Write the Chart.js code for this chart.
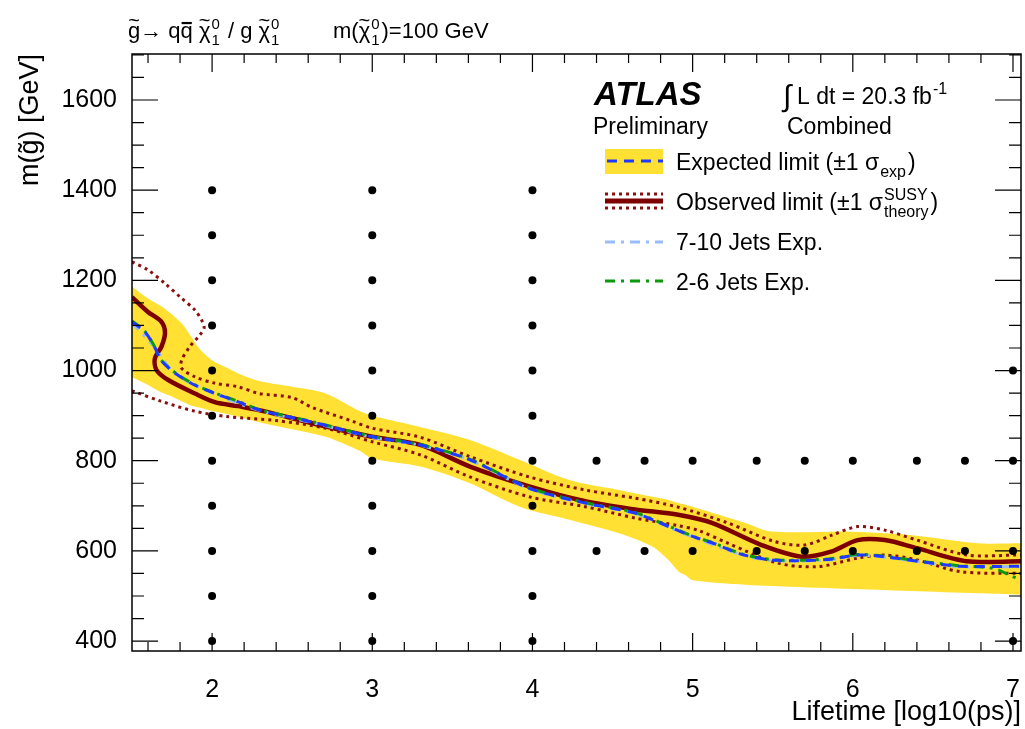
<!DOCTYPE html>
<html>
<head>
<meta charset="utf-8">
<script src="https://cdn.jsdelivr.net/npm/chart.js@4.4.0/dist/chart.umd.min.js"></script>
<style>
  body { margin: 0; background: #fff; }
  canvas { display: block; }
</style>
</head>
<body>
<canvas id="chart" width="1025" height="729"></canvas>
<script>
const FONT = '"Liberation Sans", Arial, Helvetica, sans-serif';

// tick labels
const xTickValues = [2, 3, 4, 5, 6, 7];
const yTickValues = [400, 600, 800, 1000, 1200, 1400, 1600];

// signal grid points
const gridX = [2,2,2,2,2,2,2,2,2,2,2, 3,3,3,3,3,3,3,3,3,3,3, 4,4,4,4,4,4,4,4,4,4,4,
  4.4,4.4, 4.7,4.7, 5,5, 5.4,5.4, 5.7,5.7, 6,6, 6.4,6.4, 6.7,6.7, 7,7,7,7];
const gridY = [400,500,600,700,800,900,1000,1100,1200,1300,1400,
  400,500,600,700,800,900,1000,1100,1200,1300,1400,
  400,500,600,700,800,900,1000,1100,1200,1300,1400,
  600,800, 600,800, 600,800, 600,800, 600,800, 600,800, 600,800, 600,800, 400,600,800,1000];

// expected +-1 sigma band
const bandX    = [1.5, 1.6, 1.68, 1.73, 1.81, 1.87, 1.92, 2.0, 2.1, 2.16, 2.3, 2.5, 2.71, 2.92, 3.0, 3.3, 3.61, 3.92, 4.23, 4.54, 4.75, 4.85, 4.91, 4.96, 5.0, 5.33, 5.49, 5.95, 6.15, 6.36, 6.78, 7.05];
const bandUp   = [1186, 1160, 1143, 1130, 1105, 1075, 1049, 1023, 1005, 994, 976, 964, 949, 910, 900, 875, 846, 802, 757, 735, 720, 713, 706, 702, 698, 662, 643, 643, 640, 635, 617, 617];
const bandDown = [985, 968, 952, 945, 932, 922, 918, 910, 903, 898, 885, 870, 853, 822, 805, 787, 750, 698, 669, 639, 609, 579, 555, 545, 535, 525, 522, 516, 514, 511, 506, 503];

// expected limit
const expX = [1.5, 1.58, 1.64, 1.68, 1.77, 1.89, 2.02, 2.16, 2.3, 2.62, 3.0, 3.3, 3.61, 3.98, 4.33, 4.64, 4.85, 5.0, 5.12, 5.33, 5.53, 5.85, 6.03, 6.2, 6.47, 6.67, 7.05];
const expY = [1108, 1086, 1053, 1023, 994, 968, 949, 931, 912, 886, 853, 835, 802, 739, 706, 684, 654, 632, 618, 590, 579, 581, 591, 587, 574, 566, 566];

// 2-6 jets expected
const jets26X = [1.5, 1.58, 1.64, 1.68, 1.77, 1.89, 2.02, 2.16, 2.3, 2.62, 3.0, 3.3, 3.61, 3.98, 4.33, 4.64, 4.85, 5.0, 5.12, 5.33, 5.53, 5.85, 6.03, 6.2, 6.47, 6.67, 6.88, 6.98, 7.05];
const jets26Y = [1110, 1087, 1054, 1024, 995, 969, 950, 932, 913, 887, 854, 836, 803, 740, 707, 685, 655, 633, 619, 591, 580, 582, 592, 588, 575, 567, 561, 546, 535];

// 7-10 jets expected
const jets710X = [1.5, 1.64, 1.77, 2.02, 2.3, 2.62, 3.0, 3.3, 3.61, 3.98, 4.33, 4.64, 4.85, 5.0, 5.33, 5.53, 5.85, 6.03, 6.2, 6.47, 6.67, 7.05];
const jets710Y = [1106, 1052, 993, 948, 911, 885, 852, 834, 801, 738, 705, 683, 653, 631, 589, 578, 580, 590, 586, 573, 565, 565];

// observed limit
const obsX = [1.5, 1.6, 1.684, 1.706, 1.684, 1.643, 1.653, 1.726, 1.893, 2.017, 2.162, 2.335, 2.625, 3.0, 3.3, 3.61, 3.98, 4.33, 4.64, 4.91, 5.12, 5.43, 5.68, 5.87, 6.03, 6.2, 6.4, 6.71, 7.05];
const obsY = [1163, 1130, 1108, 1083, 1053, 1027, 1001, 979, 949, 930, 921, 909, 883, 853, 835, 787, 743, 710, 692, 680, 662, 613, 587, 599, 624, 624, 606, 577, 577];

// observed +1 sigma theory
const obsUpX = [1.5, 1.6, 1.706, 1.81, 1.893, 1.94, 1.95, 1.924, 1.861, 1.81, 1.81, 1.893, 2.017, 2.162, 2.294, 2.5, 2.625, 2.874, 3.0, 3.3, 3.61, 3.98, 4.33, 4.64, 4.91, 5.22, 5.51, 5.7, 5.87, 6.03, 6.2, 6.4, 6.71, 7.05];
const obsUpY = [1241, 1223, 1193, 1160, 1134, 1108, 1094, 1079, 1053, 1023, 1005, 986, 972, 964, 949, 940, 918, 888, 872, 852, 809, 764, 735, 717, 697, 662, 621, 613, 635, 654, 646, 624, 591, 591];

// observed -1 sigma theory
const obsDownX = [1.5, 1.68, 1.89, 2.09, 2.4, 2.71, 3.0, 3.3, 3.61, 3.98, 4.33, 4.64, 4.91, 5.04, 5.22, 5.53, 5.78, 6.03, 6.2, 6.4, 6.67, 7.05];
const obsDownY = [955, 932, 910, 898, 889, 872, 842, 813, 764, 720, 698, 673, 656, 645, 617, 573, 565, 584, 591, 580, 554, 550];

const pts = (xs, ys) => xs.map((x, i) => ({ x: x, y: ys[i] }));

const YELLOW = '#ffe033';
const DARKRED = '#7d0000';
const DOTRED = '#8a1010';
const BLUE = '#2138ff';
const GREEN = '#0b9a0b';
const LIGHTBLUE = '#99bbff';

// draws text pieces; objects are either scripts {sub, sup} or accented letters {t, acc}
function richText(c, x, y, parts, size) {
  for (const p of parts) {
    if (typeof p === 'string') {
      c.font = size + 'px ' + FONT;
      c.fillText(p, x, y);
      x += c.measureText(p).width;
    } else if (p.t) {
      c.font = size + 'px ' + FONT;
      const w = c.measureText(p.t).width;
      c.fillText(p.t, x, y);
      if (p.acc === 'tilde') {
        c.save();
        c.font = Math.round(size * 0.9) + 'px ' + FONT;
        c.textAlign = 'center';
        c.fillText('~', x + w / 2, y - size * 0.48);
        c.restore();
      } else if (p.acc === 'bar') {
        c.save();
        c.lineWidth = 2.2;
        c.strokeStyle = c.fillStyle;
        c.beginPath();
        c.moveTo(x + 1, y - size * 0.68);
        c.lineTo(x + w - 1, y - size * 0.68);
        c.stroke();
        c.restore();
      }
      x += w;
    } else {
      const s = Math.round(size * 0.68);
      c.font = s + 'px ' + FONT;
      let w = 0;
      if (p.sup) { c.fillText(p.sup, x + 1, y - size * 0.42); w = c.measureText(p.sup).width; }
      if (p.sub) { c.fillText(p.sub, x + 1, y + size * 0.3); w = Math.max(w, c.measureText(p.sub).width); }
      x += w + 3;
    }
  }
  return x;
}

const decorations = {
  id: 'decorations',
  afterDraw(chart) {
    const c = chart.ctx;
    const a = chart.chartArea;
    const xs = chart.scales.x, ys = chart.scales.y;
    c.save();
    c.strokeStyle = '#000';
    c.lineWidth = 1.5;
    c.strokeRect(a.left, a.top, a.right - a.left, a.bottom - a.top);
    c.lineWidth = 1.2;
    c.beginPath();
    // x ticks, every 0.2, inward at bottom and top
    for (let k = 8; k <= 35; k++) {
      const v = k / 5;
      const px = xs.getPixelForValue(v);
      const len = (k % 5 === 0) ? 18 : 9;
      c.moveTo(px, a.bottom); c.lineTo(px, a.bottom - len);
      c.moveTo(px, a.top); c.lineTo(px, a.top + len);
    }
    // y ticks, every 50, inward at left and right
    for (let v = 400; v <= 1700; v += 50) {
      const py = ys.getPixelForValue(v);
      const len = (v % 200 === 0) ? 26 : 12;
      c.moveTo(a.left, py); c.lineTo(a.left + len, py);
      c.moveTo(a.right, py); c.lineTo(a.right - len, py);
    }
    c.stroke();

    c.fillStyle = '#000';
    c.textBaseline = 'alphabetic';
    // top-left title
    richText(c, 128, 38, [{ t: 'g', acc: 'tilde' }, '\u2192 q', { t: 'q', acc: 'bar' }, ' ', { t: '\u03c7', acc: 'tilde' }, { sub: '1', sup: '0' },
      ' / g ', { t: '\u03c7', acc: 'tilde' }, { sub: '1', sup: '0' }], 22);
    richText(c, 333, 38, ['m(', { t: '\u03c7', acc: 'tilde' }, { sub: '1', sup: '0' }, ')=100 GeV'], 22);

    // ATLAS label
    c.font = 'italic bold 33px ' + FONT;
    c.fillText('ATLAS', 594, 105);
    c.font = '23px ' + FONT;
    c.fillText('Preliminary', 593, 134);
    c.font = '30px ' + FONT;
    c.fillText('\u222b', 783, 106);
    richText(c, 797, 104, ['L dt = 20.3 fb', { sup: '-1' }], 23);
    c.font = '23px ' + FONT;
    c.fillText('Combined', 787, 134);

    // legend samples
    const lx0 = 605, lx1 = 663;
    c.fillStyle = YELLOW;
    c.fillRect(lx0, 149, lx1 - lx0, 25);
    c.lineWidth = 3;
    c.strokeStyle = BLUE;
    c.setLineDash([10, 7]);
    c.beginPath(); c.moveTo(lx0 + 2, 161); c.lineTo(lx1, 161); c.stroke();

    c.strokeStyle = DARKRED;
    c.lineWidth = 5;
    c.setLineDash([]);
    c.beginPath(); c.moveTo(lx0, 201); c.lineTo(lx1, 201); c.stroke();
    c.strokeStyle = DOTRED;
    c.lineWidth = 3;
    c.setLineDash([3, 4]);
    c.beginPath(); c.moveTo(lx0, 194); c.lineTo(lx1, 194); c.stroke();
    c.beginPath(); c.moveTo(lx0, 208); c.lineTo(lx1, 208); c.stroke();

    c.lineWidth = 3;
    c.strokeStyle = LIGHTBLUE;
    c.setLineDash([10, 6, 3, 6]);
    c.beginPath(); c.moveTo(lx0, 242); c.lineTo(lx1, 242); c.stroke();
    c.strokeStyle = GREEN;
    c.beginPath(); c.moveTo(lx0, 281); c.lineTo(lx1, 281); c.stroke();
    c.setLineDash([]);

    c.fillStyle = '#000';
    richText(c, 676, 170, ['Expected limit (\u00b11 \u03c3', { sub: 'exp' }, ')'], 23);
    richText(c, 676, 210, ['Observed limit (\u00b11 \u03c3', { sub: 'theory', sup: 'SUSY' }, ')'], 23);
    richText(c, 676, 250, ['7-10 Jets Exp.'], 23);
    richText(c, 676, 290, ['2-6 Jets Exp.'], 23);
    c.restore();
  }
};

const lineBase = { showLine: true, pointRadius: 0, fill: false, tension: 0.3, clip: 0 };

new Chart(document.getElementById('chart'), {
  type: 'scatter',
  data: {
    datasets: [
      { ...lineBase, label: 'band up', data: pts(bandX, bandUp), borderWidth: 0, borderColor: YELLOW, backgroundColor: YELLOW, fill: '+1', order: 10 },
      { ...lineBase, label: 'band down', data: pts(bandX, bandDown), borderWidth: 0, borderColor: YELLOW, order: 10 },
      { ...lineBase, label: 'obs up', data: pts(obsUpX, obsUpY), borderColor: DOTRED, borderWidth: 3, borderDash: [3, 4], order: 8 },
      { ...lineBase, label: 'obs down', data: pts(obsDownX, obsDownY), borderColor: DOTRED, borderWidth: 3, borderDash: [3, 4], order: 8 },
      { ...lineBase, label: 'Observed limit', data: pts(obsX, obsY), borderColor: DARKRED, borderWidth: 4.5, order: 7 },
      { ...lineBase, label: '7-10 Jets Exp.', data: pts(jets710X, jets710Y), borderColor: LIGHTBLUE, borderWidth: 3, borderDash: [10, 6, 3, 6], order: 6 },
      { ...lineBase, label: '2-6 Jets Exp.', data: pts(jets26X, jets26Y), borderColor: GREEN, borderWidth: 3, borderDash: [10, 6, 3, 6], order: 5 },
      { ...lineBase, label: 'Expected limit', data: pts(expX, expY), borderColor: BLUE, borderWidth: 3, borderDash: [10, 7], order: 4 },
      { label: 'grid', data: pts(gridX, gridY), pointRadius: 4, pointBackgroundColor: '#000', pointBorderWidth: 0, showLine: false, order: 1 }
    ]
  },
  options: {
    responsive: false,
    animation: false,
    layout: { padding: { top: 54, right: 2, left: 0, bottom: 0 } },
    plugins: { legend: { display: false }, tooltip: { enabled: false } },
    scales: {
      x: {
        type: 'linear', min: 1.5, max: 7.05,
        grid: { display: false, drawTicks: false },
        border: { display: false },
        afterBuildTicks: s => { s.ticks = xTickValues.map(v => ({ value: v })); },
        afterFit: s => { s.height = 78; s.paddingLeft = 0; s.paddingRight = 0; },
        ticks: { color: '#000', padding: 24, font: { family: FONT, size: 25 }, callback: v => String(v) },
        title: { display: true, text: 'Lifetime [log10(ps)]', align: 'end', color: '#000', padding: { top: 0, bottom: 0 }, font: { family: FONT, size: 27 } }
      },
      y: {
        type: 'linear', min: 378, max: 1702,
        grid: { display: false, drawTicks: false },
        border: { display: false },
        afterBuildTicks: s => { s.ticks = yTickValues.map(v => ({ value: v })); },
        afterFit: s => { s.width = 132; s.paddingTop = 0; s.paddingBottom = 0; },
        ticks: { color: '#000', padding: 15, font: { family: FONT, size: 25 }, callback: v => String(v) },
        title: { display: true, text: 'm(g\u0303) [GeV]', align: 'end', color: '#000', padding: { top: 14, bottom: 0 }, font: { family: FONT, size: 27 } }
      }
    }
  },
  plugins: [decorations]
});
</script>
</body>
</html>
